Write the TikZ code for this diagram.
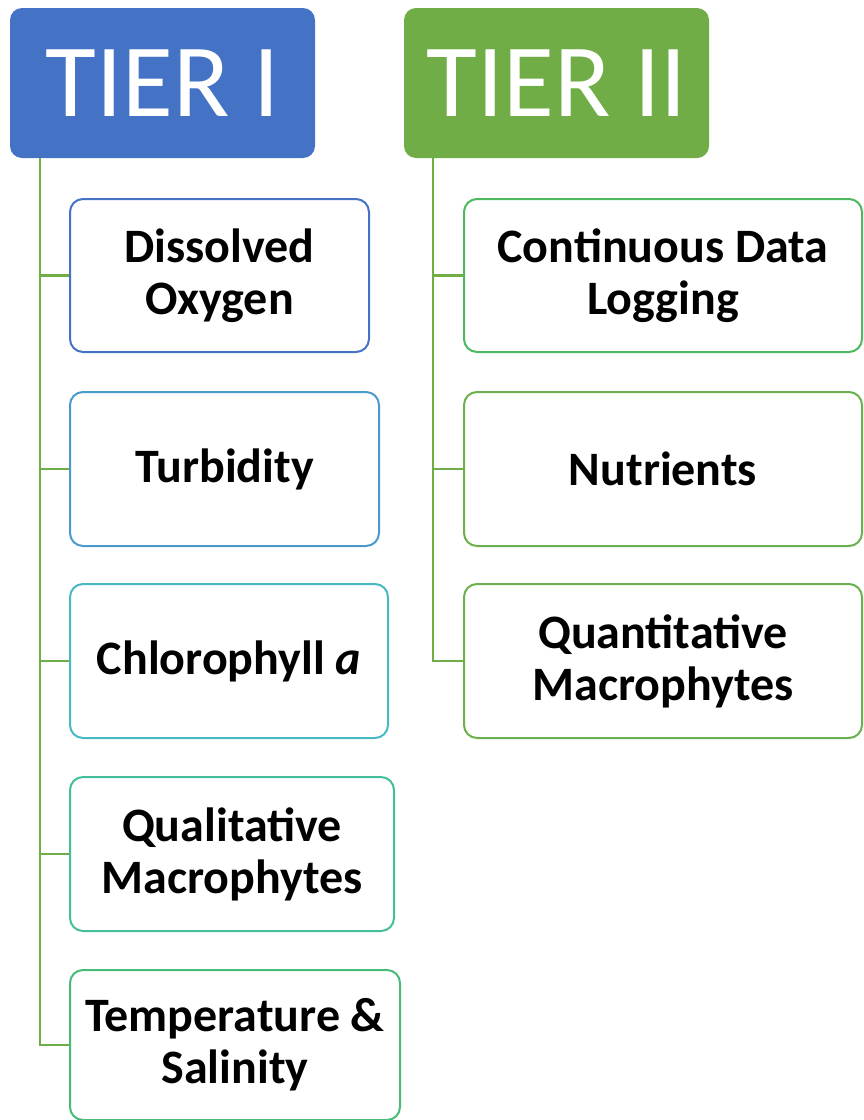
\documentclass[tikz,border=0pt]{standalone}
\usepackage{fontspec}
\setmainfont{Carlito}
\definecolor{tblue}{HTML}{4472C4}
\definecolor{tgreen}{HTML}{70AD47}
\definecolor{cA}{HTML}{4472C4}
\definecolor{cB}{HTML}{4A9BCB}
\definecolor{cC}{HTML}{47B9C5}
\definecolor{cD}{HTML}{43C09B}
\definecolor{cE}{HTML}{48BB78}
\definecolor{cF}{HTML}{4DB860}
\definecolor{cG}{HTML}{6AB04C}
\tikzset{
  tierbox/.style={rounded corners=12pt, minimum width=305pt, minimum height=150pt, inner sep=0pt,
     text=white, font=\fontsize{104}{110}\selectfont},
  childbox/.style={draw, line width=2pt, rounded corners=13pt, fill=white, inner sep=0pt,
     align=center, text=black, font=\fontsize{48}{52}\selectfont\bfseries},
  conn/.style={draw=tgreen, line width=2.2pt}
}
\begin{document}
\begin{tikzpicture}[x=1pt,y=-1pt]
\useasboundingbox (0,0) rectangle (864,1120);
% tier headers
\node[tierbox, fill=tblue] (t1) at (162.5,83) {TIER I};
\node[tierbox, fill=tgreen] (t2) at (556.5,83) {TIER II};
% tier I children
\node[childbox, draw=cA, minimum width=299pt, minimum height=153pt] (a1) at (219.5,275.5) {Dissolved\\Oxygen};
\node[childbox, draw=cB, minimum width=309pt, minimum height=154pt] (a2) at (224.5,469) {Turbidity};
\node[childbox, draw=cC, minimum width=318pt, minimum height=154pt] (a3) at (229,661) {Chlorophyll \textit{a}};
\node[childbox, draw=cD, minimum width=324pt, minimum height=154pt] (a4) at (232,854) {Qualitative\\Macrophytes};
\node[childbox, draw=cE, minimum width=330pt, minimum height=150pt] (a5) at (235,1045) {Temperature \&\\Salinity};
% tier II children
\node[childbox, draw=cF, minimum width=398pt, minimum height=153pt] (b1) at (663,275.5) {Continuous Data\\Logging};
\node[childbox, draw=cG, minimum width=398pt, minimum height=154pt] (b2) at (663,469) {Nutrients};
\node[childbox, draw=cG, minimum width=398pt, minimum height=154pt] (b3) at (663,661) {Quantitative\\Macrophytes};
% connectors tier I
\coordinate (ta) at ([xshift=30pt]t1.south west);
\draw[conn] (ta) |- (a5.west);
\foreach \n in {a1,a2,a3,a4}{\draw[conn] (ta |- \n.west) -- (\n.west);}
% connectors tier II
\coordinate (tb) at ([xshift=29.5pt]t2.south west);
\draw[conn] (tb) |- (b3.west);
\foreach \n in {b1,b2}{\draw[conn] (tb |- \n.west) -- (\n.west);}
\end{tikzpicture}
\end{document}
